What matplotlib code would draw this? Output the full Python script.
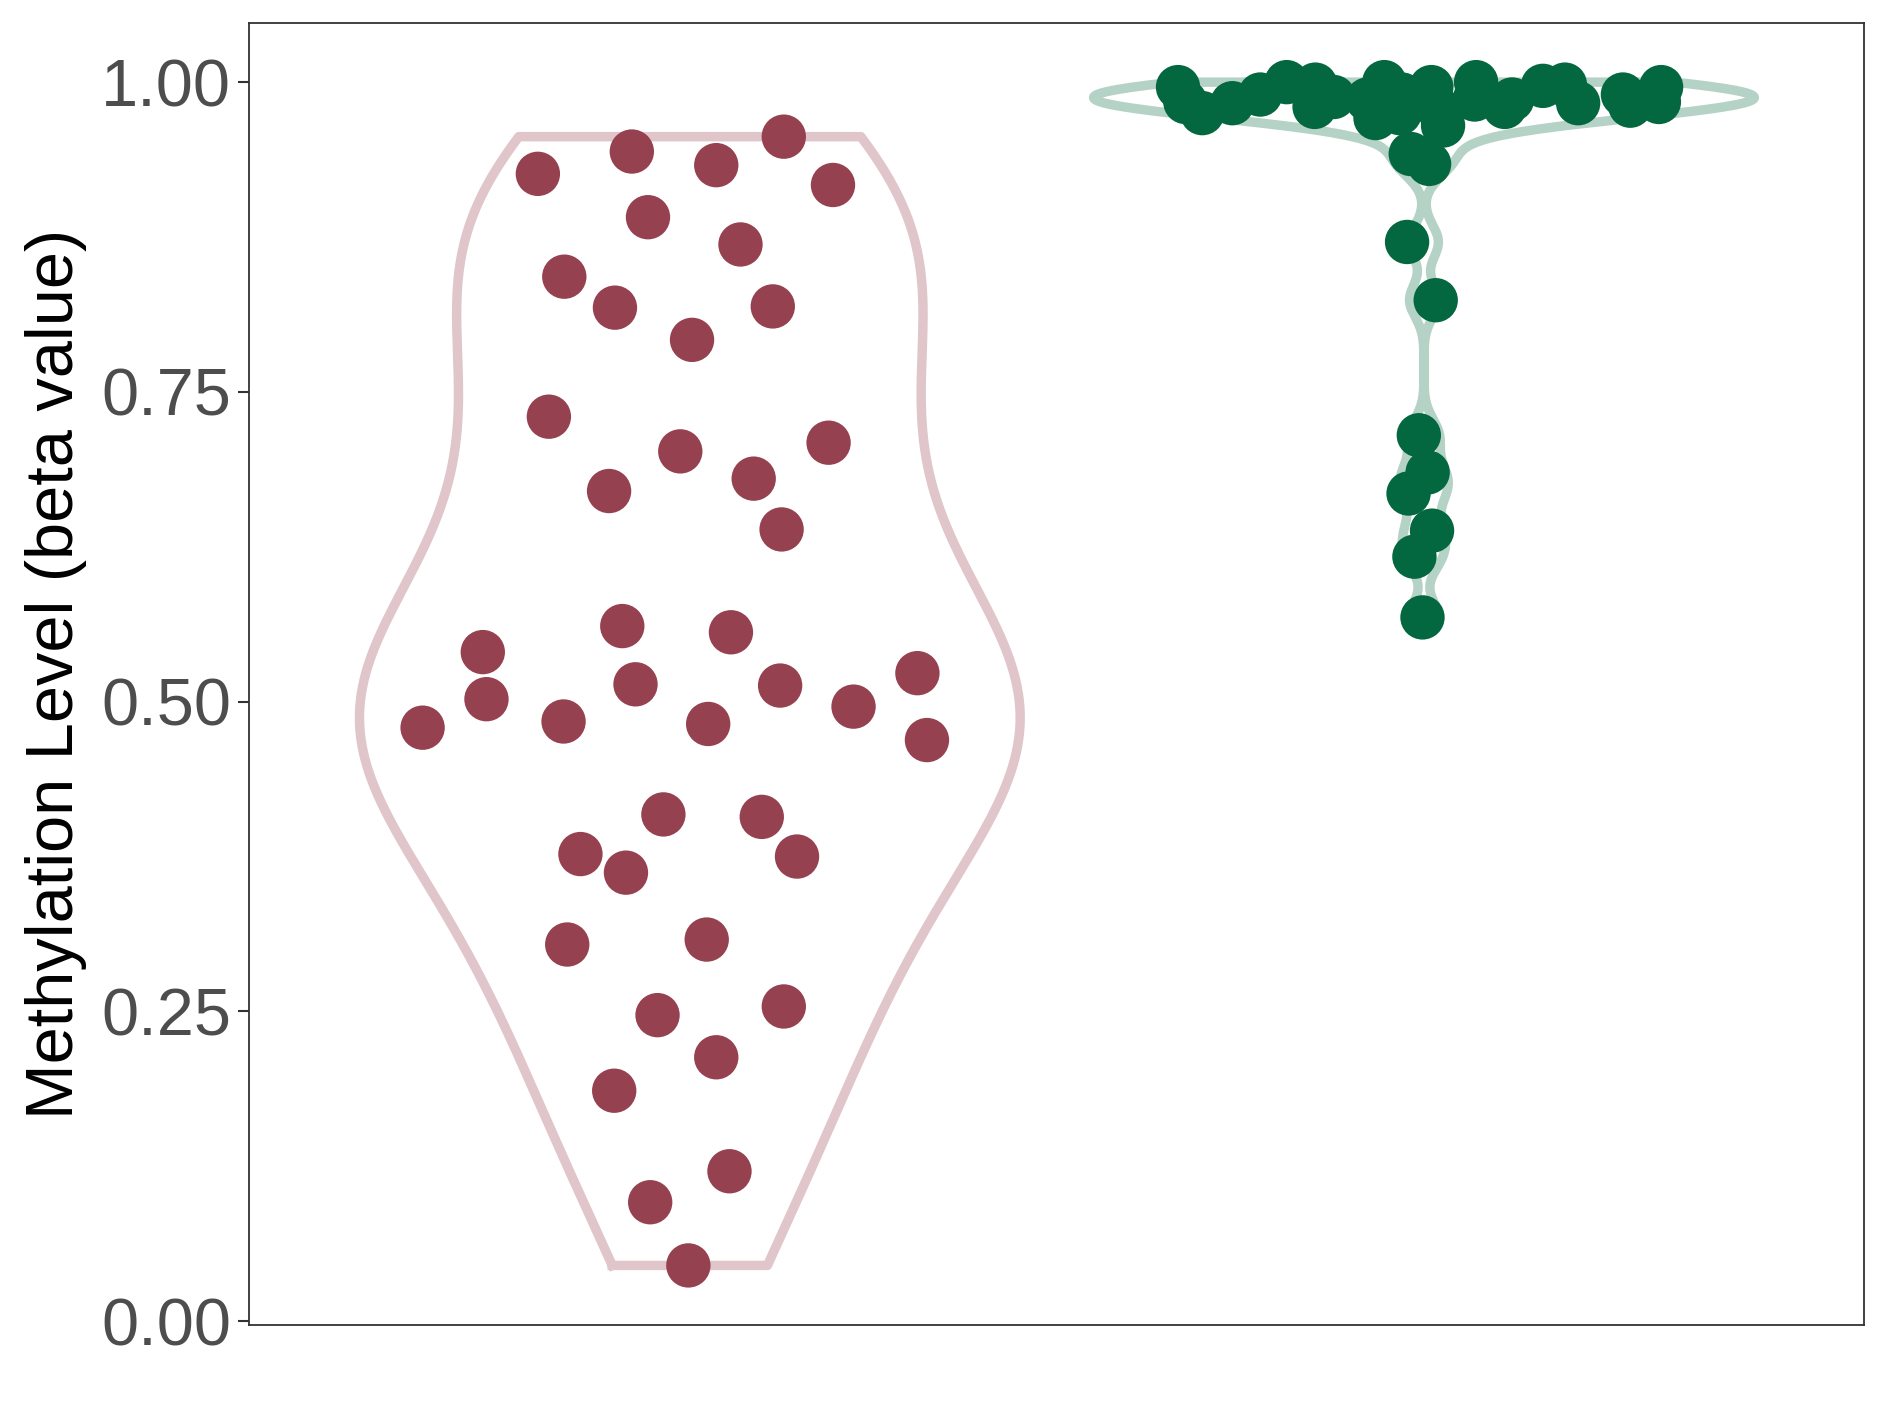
import numpy as np
import matplotlib
matplotlib.use("Agg")
import matplotlib.pyplot as plt

plt.rcParams['font.family'] = ['Liberation Sans', 'DejaVu Sans']

# ---- data ----
groups = ["Group A", "Group B"]

a_values = [0.926, 0.944, 0.933, 0.956, 0.917, 0.891, 0.869, 0.843, 0.818, 0.819,
            0.792, 0.730, 0.702, 0.709, 0.680, 0.670, 0.639, 0.561, 0.556, 0.540,
            0.514, 0.513, 0.523, 0.502, 0.479, 0.484, 0.482, 0.496, 0.469, 0.409,
            0.407, 0.377, 0.362, 0.375, 0.304, 0.308, 0.247, 0.254, 0.213, 0.186,
            0.121, 0.096, 0.045]
a_jitter = [-0.207, -0.079, 0.036, 0.128, 0.195, -0.057, 0.069, -0.171, -0.102, 0.113,
            0.003, -0.192, -0.013, 0.189, 0.087, -0.110, 0.125, -0.092, 0.056, -0.282,
            -0.074, 0.123, 0.310, -0.277, -0.364, -0.172, 0.025, 0.223, 0.323, -0.036,
            0.098, -0.149, -0.087, 0.146, -0.167, 0.023, -0.044, 0.128, 0.036, -0.103,
            0.054, -0.054, -0.002]

b_values = [0.996, 0.984, 0.975, 0.983, 0.990, 1.000, 0.998, 0.980, 0.988, 0.986,
            1.000, 0.971, 0.990, 0.975, 0.996, 0.978, 0.965, 1.000, 0.986, 0.980,
            0.986, 0.997, 0.998, 0.983, 0.990, 0.981, 0.996, 0.984,
            0.942, 0.934, 0.871, 0.824, 0.715, 0.685, 0.668, 0.638, 0.617, 0.568]
b_jitter = [-0.335, -0.325, -0.302, -0.261, -0.223, -0.187, -0.148, -0.149, -0.123, -0.077,
            -0.054, -0.066, -0.030, -0.033, 0.010, 0.020, 0.026, 0.071, 0.069, 0.110,
            0.120, 0.162, 0.192, 0.210, 0.271, 0.281, 0.323, 0.320,
            -0.018, 0.007, -0.023, 0.016, -0.007, 0.005, -0.021, 0.011, -0.013, -0.002]

yticks = [0.00, 0.25, 0.50, 0.75, 1.00]
ytick_labels = ["0.00", "0.25", "0.50", "0.75", "1.00"]
ylabel = "Methylation Level (beta value)"

point_colors = ["#964150", "#03673F"]
violin_colors = ["#E0C5CB", "#B5D2C6"]


def bw_nrd0(x):
    x = np.asarray(x)
    sd = np.std(x, ddof=1)
    q75, q25 = np.percentile(x, [75, 25])
    lo = min(sd, (q75 - q25) / 1.34)
    if lo <= 0:
        lo = sd
    return 0.9 * lo * len(x) ** (-0.2)


def kde(x, grid):
    x = np.asarray(x)
    h = bw_nrd0(x)
    d = np.exp(-0.5 * ((grid[:, None] - x[None, :]) / h) ** 2).sum(axis=1)
    return d / (len(x) * h * np.sqrt(2 * np.pi))


fig = plt.figure(figsize=(18.89, 14.17), dpi=100)
ax = fig.add_axes([0.132, 0.065, 0.855, 0.919])

for i, (vals, jit) in enumerate([(a_values, a_jitter), (b_values, b_jitter)]):
    pos = i + 1
    grid = np.linspace(min(vals), max(vals), 512)
    dens = kde(vals, grid)
    w = dens / dens.max() * 0.45
    xs = np.concatenate([pos - w, (pos + w)[::-1], [pos - w[0]]])
    ys = np.concatenate([grid, grid[::-1], [grid[0]]])
    ax.plot(xs, ys, color=violin_colors[i], lw=6.8, solid_joinstyle='round', zorder=2)
    ax.scatter(pos + np.asarray(jit), vals, s=1020, color=point_colors[i],
               edgecolors='none', zorder=3)

ax.set_xlim(0.4, 2.6)
ax.set_ylim(-0.003, 1.048)
ax.set_xticks([])
ax.set_yticks(yticks)
ax.set_yticklabels(ytick_labels, fontsize=48, color="#4D4D4D")
ax.tick_params(axis='y', length=8, width=1.5, color="#333333", pad=5)
ax.set_ylabel(ylabel, fontsize=48, color="black", labelpad=10)
for s in ax.spines.values():
    s.set_color("#333333")
    s.set_linewidth(1.3)

fig.savefig("out.png", dpi=100)
